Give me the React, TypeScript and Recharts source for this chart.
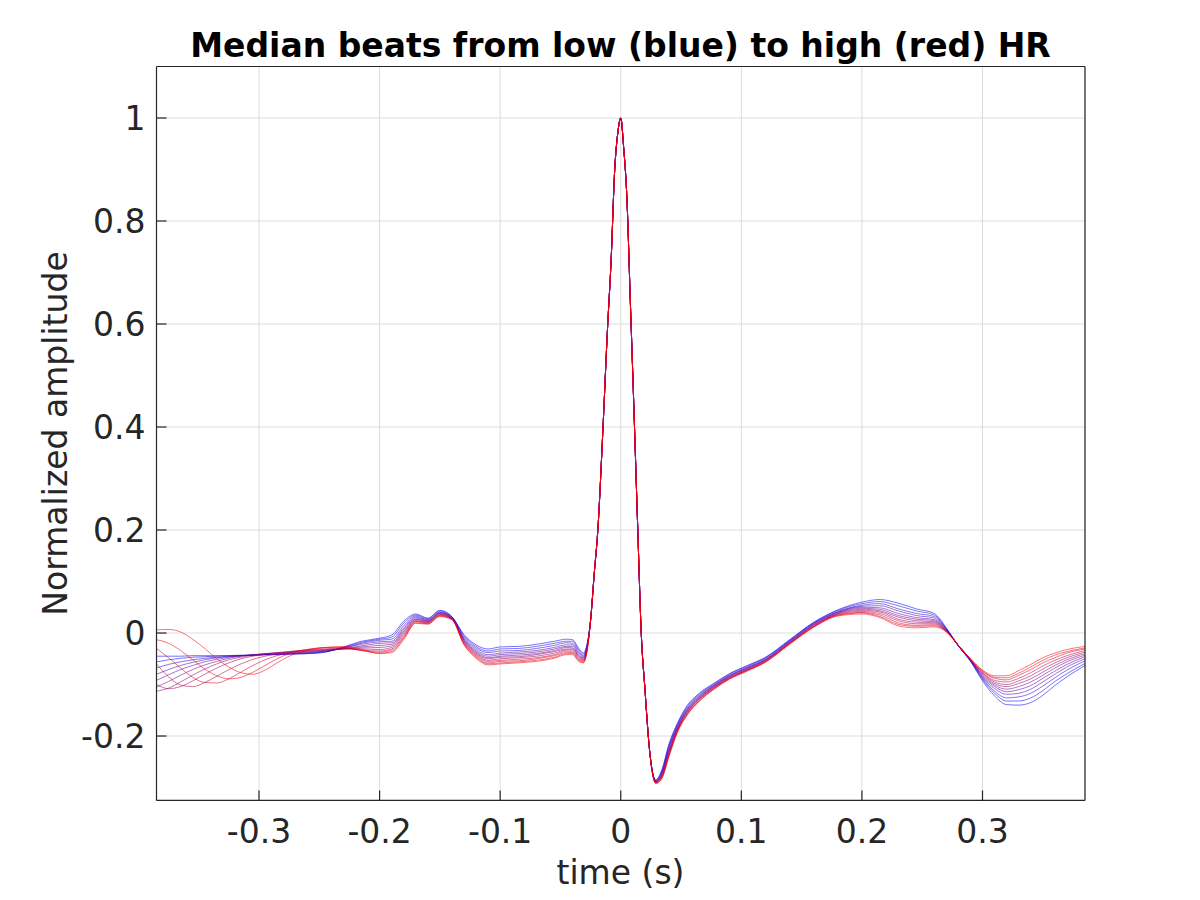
import React from 'react';
import { LineChart, Line, XAxis, YAxis, CartesianGrid } from 'recharts';

// ---- time grid (s) ----
const timePre = [-0.385, -0.375, -0.365, -0.355, -0.345, -0.335, -0.325, -0.315, -0.305, -0.295, -0.285, -0.275, -0.26, -0.245, -0.23, -0.215, -0.2,
  -0.19, -0.18, -0.17, -0.16, -0.15, -0.14, -0.13, -0.12, -0.11, -0.1, -0.085, -0.07, -0.055, -0.045, -0.04, -0.035, -0.031, -0.028];
const timeQrs = [-0.025, -0.022, -0.019, -0.015, -0.011, -0.008, -0.005, -0.0025, 0, 0.0025, 0.005, 0.008, 0.011, 0.014, 0.017, 0.02, 0.024];
const timePost = [0.029, 0.034, 0.04, 0.047, 0.055, 0.065, 0.077, 0.09, 0.105, 0.12, 0.14, 0.16, 0.18, 0.2, 0.215, 0.23, 0.245, 0.26, 0.27, 0.28,
  0.29, 0.3, 0.31, 0.32, 0.33, 0.34, 0.35, 0.36, 0.37, 0.385];

// shared QRS complex (all beats overlap here)
const qrsCore = [0.025, 0.115, 0.2, 0.385, 0.59, 0.723, 0.9, 0.97, 1.0, 0.94, 0.85, 0.64, 0.43, 0.21, 0.0, -0.107, -0.23];

// ---- beats, from low HR (01, blue) to high HR (12, red): before QRS ----
const b01Pre = [-0.045, -0.045, -0.045, -0.044, -0.044, -0.044, -0.044, -0.043, -0.043, -0.042, -0.042, -0.041, -0.040, -0.037, -0.027, -0.016, -0.010, -0.004, 0.023, 0.037, 0.029, 0.044, 0.032, -0.003, -0.023, -0.031, -0.027, -0.026, -0.022, -0.016, -0.012, -0.013, -0.029, -0.039, -0.022];
const b02Pre = [-0.056, -0.052, -0.049, -0.047, -0.046, -0.045, -0.044, -0.044, -0.043, -0.042, -0.042, -0.041, -0.040, -0.037, -0.028, -0.018, -0.012, -0.008, 0.019, 0.035, 0.028, 0.043, 0.031, -0.005, -0.026, -0.035, -0.031, -0.030, -0.026, -0.020, -0.016, -0.016, -0.032, -0.041, -0.024];
const b03Pre = [-0.068, -0.061, -0.056, -0.052, -0.049, -0.047, -0.045, -0.044, -0.043, -0.042, -0.041, -0.040, -0.039, -0.036, -0.029, -0.020, -0.014, -0.012, 0.014, 0.033, 0.026, 0.041, 0.031, -0.008, -0.029, -0.038, -0.035, -0.034, -0.030, -0.024, -0.019, -0.020, -0.035, -0.044, -0.025];
const b04Pre = [-0.080, -0.071, -0.063, -0.057, -0.052, -0.048, -0.046, -0.044, -0.043, -0.042, -0.041, -0.040, -0.038, -0.035, -0.029, -0.022, -0.017, -0.016, 0.010, 0.031, 0.025, 0.040, 0.030, -0.010, -0.032, -0.042, -0.039, -0.037, -0.034, -0.028, -0.023, -0.023, -0.038, -0.046, -0.027];
const b05Pre = [-0.092, -0.081, -0.071, -0.063, -0.056, -0.051, -0.047, -0.044, -0.042, -0.041, -0.040, -0.039, -0.037, -0.035, -0.030, -0.025, -0.020, -0.019, 0.007, 0.029, 0.024, 0.039, 0.029, -0.012, -0.035, -0.045, -0.042, -0.040, -0.037, -0.031, -0.026, -0.026, -0.041, -0.048, -0.028];
const b06Pre = [-0.105, -0.094, -0.082, -0.071, -0.062, -0.055, -0.049, -0.045, -0.042, -0.040, -0.039, -0.038, -0.036, -0.034, -0.031, -0.027, -0.024, -0.022, 0.004, 0.027, 0.023, 0.038, 0.029, -0.014, -0.037, -0.048, -0.045, -0.043, -0.040, -0.034, -0.028, -0.029, -0.043, -0.049, -0.030];
const b07Pre = [-0.113, -0.107, -0.095, -0.082, -0.070, -0.060, -0.052, -0.047, -0.043, -0.040, -0.038, -0.037, -0.035, -0.033, -0.031, -0.029, -0.028, -0.025, 0.001, 0.026, 0.022, 0.037, 0.028, -0.015, -0.039, -0.050, -0.047, -0.046, -0.042, -0.036, -0.031, -0.031, -0.045, -0.051, -0.031];
const b08Pre = [-0.100, -0.108, -0.104, -0.093, -0.080, -0.068, -0.058, -0.050, -0.045, -0.041, -0.038, -0.036, -0.034, -0.032, -0.031, -0.031, -0.032, -0.028, -0.002, 0.024, 0.021, 0.036, 0.028, -0.017, -0.041, -0.053, -0.050, -0.048, -0.045, -0.039, -0.033, -0.033, -0.047, -0.052, -0.032];
const b09Pre = [-0.060, -0.085, -0.101, -0.104, -0.096, -0.084, -0.071, -0.060, -0.051, -0.045, -0.040, -0.036, -0.033, -0.031, -0.030, -0.033, -0.035, -0.031, -0.005, 0.023, 0.020, 0.035, 0.027, -0.019, -0.043, -0.055, -0.053, -0.051, -0.048, -0.042, -0.035, -0.036, -0.049, -0.054, -0.033];
const b10Pre = [-0.030, -0.048, -0.068, -0.086, -0.096, -0.097, -0.089, -0.076, -0.063, -0.052, -0.044, -0.038, -0.032, -0.029, -0.029, -0.034, -0.037, -0.033, -0.008, 0.022, 0.019, 0.034, 0.027, -0.020, -0.045, -0.058, -0.055, -0.054, -0.050, -0.044, -0.038, -0.038, -0.051, -0.055, -0.034];
const b11Pre = [-0.013, -0.020, -0.034, -0.052, -0.070, -0.083, -0.089, -0.086, -0.076, -0.063, -0.050, -0.040, -0.032, -0.028, -0.028, -0.034, -0.039, -0.036, -0.010, 0.020, 0.018, 0.033, 0.026, -0.022, -0.047, -0.060, -0.058, -0.056, -0.053, -0.047, -0.040, -0.040, -0.053, -0.057, -0.035];
const b12Pre = [0.006, 0.007, 0.002, -0.012, -0.030, -0.050, -0.066, -0.077, -0.080, -0.072, -0.058, -0.045, -0.034, -0.028, -0.026, -0.032, -0.040, -0.038, -0.013, 0.019, 0.017, 0.032, 0.026, -0.023, -0.049, -0.062, -0.060, -0.058, -0.055, -0.049, -0.042, -0.042, -0.055, -0.058, -0.036];

// ---- after QRS (S wave, ST, T wave) ----
const b01Post = [-0.285, -0.266, -0.215, -0.175, -0.141, -0.117, -0.098, -0.079, -0.063, -0.047, -0.013, 0.021, 0.045, 0.060, 0.065, 0.058, 0.047, 0.038, 0.010, -0.025, -0.055, -0.093, -0.122, -0.139, -0.140, -0.135, -0.121, -0.102, -0.085, -0.063];
const b02Post = [-0.286, -0.268, -0.218, -0.177, -0.143, -0.119, -0.099, -0.080, -0.064, -0.048, -0.014, 0.020, 0.044, 0.057, 0.061, 0.053, 0.043, 0.035, 0.009, -0.025, -0.054, -0.090, -0.117, -0.132, -0.132, -0.126, -0.112, -0.094, -0.079, -0.059];
const b03Post = [-0.287, -0.270, -0.221, -0.179, -0.146, -0.121, -0.101, -0.082, -0.066, -0.049, -0.015, 0.019, 0.042, 0.054, 0.057, 0.047, 0.038, 0.032, 0.008, -0.025, -0.054, -0.088, -0.113, -0.126, -0.124, -0.117, -0.103, -0.087, -0.072, -0.054];
const b04Post = [-0.287, -0.272, -0.224, -0.181, -0.148, -0.123, -0.102, -0.083, -0.067, -0.051, -0.016, 0.018, 0.041, 0.052, 0.053, 0.043, 0.034, 0.029, 0.007, -0.025, -0.053, -0.086, -0.108, -0.119, -0.117, -0.109, -0.095, -0.080, -0.066, -0.050];
const b05Post = [-0.288, -0.274, -0.226, -0.183, -0.150, -0.124, -0.103, -0.084, -0.068, -0.052, -0.017, 0.017, 0.040, 0.050, 0.049, 0.038, 0.030, 0.026, 0.006, -0.025, -0.053, -0.084, -0.104, -0.114, -0.110, -0.102, -0.088, -0.074, -0.061, -0.046];
const b06Post = [-0.289, -0.275, -0.229, -0.185, -0.151, -0.126, -0.104, -0.085, -0.069, -0.052, -0.018, 0.016, 0.039, 0.048, 0.046, 0.034, 0.027, 0.024, 0.006, -0.024, -0.052, -0.082, -0.101, -0.109, -0.104, -0.095, -0.082, -0.068, -0.056, -0.043];
const b07Post = [-0.289, -0.277, -0.231, -0.186, -0.153, -0.127, -0.105, -0.086, -0.070, -0.053, -0.019, 0.015, 0.038, 0.046, 0.043, 0.031, 0.024, 0.022, 0.005, -0.024, -0.052, -0.080, -0.098, -0.104, -0.098, -0.089, -0.076, -0.063, -0.052, -0.040];
const b08Post = [-0.290, -0.278, -0.233, -0.188, -0.154, -0.128, -0.106, -0.087, -0.071, -0.054, -0.019, 0.014, 0.037, 0.044, 0.041, 0.027, 0.021, 0.020, 0.004, -0.024, -0.052, -0.078, -0.095, -0.100, -0.093, -0.083, -0.070, -0.058, -0.048, -0.037];
const b09Post = [-0.290, -0.279, -0.235, -0.189, -0.156, -0.129, -0.107, -0.088, -0.072, -0.055, -0.020, 0.013, 0.036, 0.042, 0.038, 0.024, 0.018, 0.018, 0.004, -0.024, -0.051, -0.077, -0.092, -0.095, -0.088, -0.077, -0.064, -0.053, -0.044, -0.034];
const b10Post = [-0.291, -0.281, -0.237, -0.190, -0.157, -0.131, -0.108, -0.088, -0.072, -0.056, -0.021, 0.012, 0.035, 0.040, 0.035, 0.020, 0.015, 0.016, 0.003, -0.024, -0.051, -0.075, -0.088, -0.091, -0.082, -0.071, -0.058, -0.048, -0.039, -0.031];
const b11Post = [-0.292, -0.282, -0.238, -0.192, -0.159, -0.132, -0.109, -0.089, -0.073, -0.056, -0.021, 0.012, 0.034, 0.039, 0.032, 0.017, 0.013, 0.014, 0.003, -0.024, -0.050, -0.073, -0.086, -0.087, -0.078, -0.066, -0.053, -0.043, -0.036, -0.029];
const b12Post = [-0.292, -0.283, -0.240, -0.193, -0.160, -0.133, -0.110, -0.090, -0.074, -0.057, -0.022, 0.011, 0.033, 0.037, 0.030, 0.014, 0.010, 0.012, 0.002, -0.024, -0.050, -0.072, -0.083, -0.083, -0.073, -0.061, -0.048, -0.039, -0.032, -0.026];

// ---- axes ----
const xTicks = [-0.3, -0.2, -0.1, 0, 0.1, 0.2, 0.3];
const yTicks = [-0.2, 0, 0.2, 0.4, 0.6, 0.8, 1];
const xDomain: [number, number] = [-0.385, 0.385];
const yDomain: [number, number] = [-0.325, 1.1];

const preSegments = [b01Pre, b02Pre, b03Pre, b04Pre, b05Pre, b06Pre, b07Pre, b08Pre, b09Pre, b10Pre, b11Pre, b12Pre];
const postSegments = [b01Post, b02Post, b03Post, b04Post, b05Post, b06Post, b07Post, b08Post, b09Post, b10Post, b11Post, b12Post];

const time = [...timePre, ...timeQrs, ...timePost];
const beats = preSegments.map((pre, i) => [...pre, ...qrsCore, ...postSegments[i]]);
const data = time.map((t, j) => {
  const row: Record<string, number> = { t };
  beats.forEach((vals, i) => {
    row['s' + i] = vals[j];
  });
  return row;
});

const n = beats.length;
const beatColor = (i: number) => {
  const f = i / (n - 1);
  return `rgb(${Math.round(255 * f)},0,${Math.round(255 * (1 - f))})`;
};

const FONT = "'DejaVu Sans', sans-serif";
const AX = '#262626';
const FS = 33;
const X_TICK_GAP = 19.6;
const Y_TICK_GAP = 11;
const TICK_LEN = 10;

// bottom tick: label below the axis plus a short inward tick mark
const BottomTick = (props: any) => {
  const { x, y, payload } = props;
  const axisY = y - X_TICK_GAP;
  return (
    <g>
      <line x1={x} x2={x} y1={axisY} y2={axisY - TICK_LEN} stroke={AX} strokeWidth={1.2} />
      <text x={x} y={y} dy="0.71em" textAnchor="middle" fill={AX} fontSize={FS} fontFamily={FONT}>
        {String(payload.value)}
      </text>
    </g>
  );
};

// left tick: label left of the axis plus a short inward tick mark
const LeftTick = (props: any) => {
  const { x, y, payload } = props;
  const axisX = x + Y_TICK_GAP;
  return (
    <g>
      <line x1={axisX} x2={axisX + TICK_LEN} y1={y} y2={y} stroke={AX} strokeWidth={1.2} />
      <text x={x} y={y} dy="0.355em" textAnchor="end" fill={AX} fontSize={FS} fontFamily={FONT}>
        {String(payload.value)}
      </text>
    </g>
  );
};

export default function App() {
  return (
    <div style={{ position: 'absolute', left: 0, top: 0, width: 1200, height: 900, background: '#fff' }}>
      <LineChart
        width={1200}
        height={900}
        data={data}
        margin={{ top: 66.5, right: 115, bottom: 39.6, left: 56.5 }}
        style={{ fontFamily: FONT }}
      >
        <CartesianGrid xAxisId="x" yAxisId="y" stroke="#dcdcdc" strokeWidth={1} />
        <XAxis
          xAxisId="x"
          dataKey="t"
          type="number"
          domain={xDomain}
          ticks={xTicks}
          allowDataOverflow
          height={60}
          tickLine={false}
          tickSize={0}
          tickMargin={X_TICK_GAP}
          axisLine={{ stroke: AX, strokeWidth: 1.2 }}
          tick={<BottomTick />}
        />
        <XAxis
          xAxisId="xt"
          orientation="top"
          dataKey="t"
          type="number"
          domain={xDomain}
          ticks={xTicks}
          allowDataOverflow
          height={1}
          mirror
          tick={false}
          tickSize={TICK_LEN}
          tickLine={{ stroke: AX, strokeWidth: 1.2 }}
          axisLine={{ stroke: AX, strokeWidth: 1.2 }}
        />
        <YAxis
          yAxisId="y"
          type="number"
          domain={yDomain}
          ticks={yTicks}
          allowDataOverflow
          width={100}
          tickLine={false}
          tickSize={0}
          tickMargin={Y_TICK_GAP}
          axisLine={{ stroke: AX, strokeWidth: 1.2 }}
          tick={<LeftTick />}
        />
        <YAxis
          yAxisId="yr"
          orientation="right"
          type="number"
          domain={yDomain}
          ticks={yTicks}
          allowDataOverflow
          width={1}
          mirror
          tick={false}
          tickSize={TICK_LEN}
          tickLine={{ stroke: AX, strokeWidth: 1.2 }}
          axisLine={{ stroke: AX, strokeWidth: 1.2 }}
        />
        {beats.map((_, i) => (
          <Line
            key={i}
            xAxisId="x"
            yAxisId="y"
            dataKey={'s' + i}
            type="monotone"
            stroke={beatColor(i)}
            strokeOpacity={0.55}
            strokeWidth={1}
            dot={false}
            activeDot={false}
            isAnimationActive={false}
          />
        ))}
      </LineChart>
      <svg
        width={1200}
        height={900}
        style={{ position: 'absolute', left: 0, top: 0, pointerEvents: 'none' }}
      >
        <text x={620.5} y={56.5} textAnchor="middle" fontFamily={FONT} fontSize={FS} fontWeight="bold" fill="#000">
          Median beats from low (blue) to high (red) HR
        </text>
        <text x={620.5} y={884} textAnchor="middle" fontFamily={FONT} fontSize={FS} fill={AX}>
          time (s)
        </text>
        <text
          x={0}
          y={0}
          transform="translate(67,433.5) rotate(-90)"
          textAnchor="middle"
          fontFamily={FONT}
          fontSize={FS}
          fill={AX}
        >
          Normalized amplitude
        </text>
      </svg>
    </div>
  );
}
